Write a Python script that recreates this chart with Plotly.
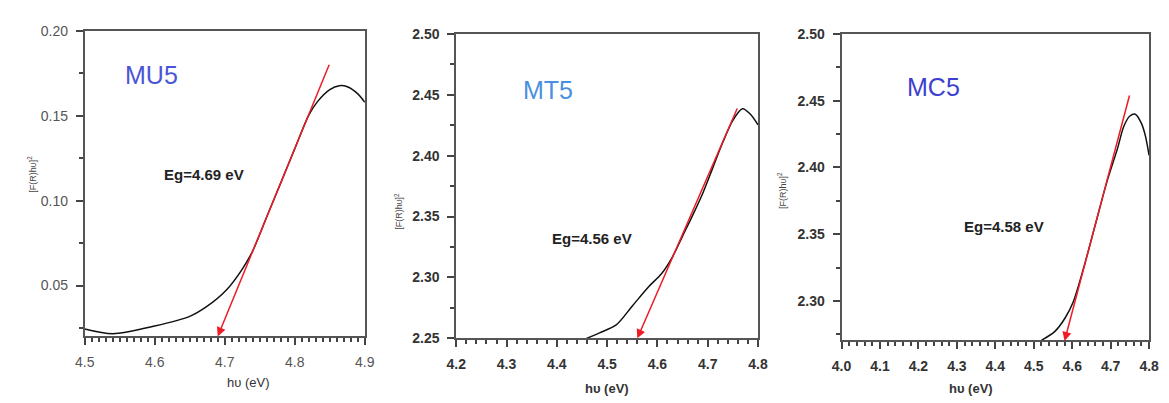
import plotly.graph_objects as go

# ---- data ----
mu5_x = [4.50, 4.54, 4.60, 4.65, 4.674, 4.702, 4.7255, 4.74, 4.76, 4.78, 4.80, 4.82, 4.833, 4.85, 4.8635, 4.875, 4.89, 4.90]
mu5_y = [0.0244, 0.0216, 0.0261, 0.0318, 0.0375, 0.0472, 0.060, 0.0705, 0.0905, 0.1105, 0.1307, 0.1505, 0.1587, 0.1655, 0.1678, 0.1672, 0.163, 0.158]
mu5_fit = [(4.69, 0.02), (4.85, 0.181)]

mt5_x = [4.459, 4.485, 4.518, 4.5505, 4.583, 4.608, 4.63, 4.65, 4.67, 4.69, 4.71, 4.73, 4.75, 4.769, 4.785, 4.80]
mt5_y = [2.250, 2.2545, 2.261, 2.2768, 2.2926, 2.303, 2.317, 2.334, 2.351, 2.369, 2.390, 2.411, 2.429, 2.4385, 2.434, 2.4253]
mt5_fit = [(4.56, 2.25), (4.76, 2.44)]

mc5_x = [4.52, 4.555, 4.581, 4.602, 4.63, 4.66, 4.69, 4.7175, 4.734, 4.75, 4.764, 4.78, 4.79, 4.80]
mc5_y = [2.2705, 2.2772, 2.287, 2.2988, 2.325, 2.357, 2.389, 2.4139, 2.4307, 2.4385, 2.4398, 2.433, 2.424, 2.409]
mc5_fit = [(4.58, 2.27), (4.75, 2.455)]

labels = ["MU5", "MT5", "MC5"]
eg_labels = ["Eg=4.69 eV", "Eg=4.56 eV", "Eg=4.58 eV"]
x_ranges = [[4.5, 4.9], [4.2, 4.8], [4.0, 4.8]]
y_ranges = [[0.02, 0.20], [2.25, 2.50], [2.2705, 2.50]]
x_major_step = [0.1, 0.1, 0.1]
x_minor_step = [0.01, 0.02, 0.02]
y_major_step = [0.05, 0.05, 0.05]
y_minor_step = [0.025, 0.025, 0.025]

# ---- layout params ----
x_domains = [[0.0650, 0.3088], [0.3884, 0.6510], [0.7237, 0.9914]]
y_domains = [[0.1514, 0.9404], [0.1464, 0.933], [0.1414, 0.933]]
label_colors = ["#4a55d8", "#4a8fe0", "#3c3fd0"]
label_pos = [(4.595, 0.174), (4.382, 2.454), (4.24, 2.46)]
eg_pos = [(4.67, 0.1153), (4.47, 2.332), (4.4235, 2.3554)]
bold = [False, True, True]

series = [(mu5_x, mu5_y, mu5_fit), (mt5_x, mt5_y, mt5_fit), (mc5_x, mc5_y, mc5_fit)]

fig = go.Figure()
annotations = []
for i, (xs, ys, fit) in enumerate(series):
    xa = "x" if i == 0 else f"x{i+1}"
    ya = "y" if i == 0 else f"y{i+1}"
    suffix = "" if i == 0 else str(i + 1)
    fig.add_trace(go.Scatter(x=xs, y=ys, mode="lines",
                             line=dict(color="#111", width=1.5, shape="spline", smoothing=0.8),
                             xaxis=xa, yaxis=ya, showlegend=False, hoverinfo="skip"))
    annotations.append(dict(x=fit[0][0], y=fit[0][1], ax=fit[1][0], ay=fit[1][1],
                            xref=xa, yref=ya, axref=xa, ayref=ya, text="", showarrow=True,
                            arrowhead=2, arrowsize=1.2, arrowwidth=1.5, arrowcolor="#ee1c25"))
    annotations.append(dict(x=label_pos[i][0], y=label_pos[i][1], xref=xa, yref=ya, text=labels[i],
                            showarrow=False, font=dict(family="Liberation Sans", size=25, color=label_colors[i])))
    annotations.append(dict(x=eg_pos[i][0], y=eg_pos[i][1], xref=xa, yref=ya, text=f"<b>{eg_labels[i]}</b>",
                            showarrow=False, font=dict(family="Liberation Sans", size=15, color="#222")))
    tfont = dict(family="Liberation Sans", size=14, color="#333" if bold[i] else "#555")
    if bold[i]:
        tfont["weight"] = "bold"
    fig.update_layout(**{
        f"xaxis{suffix}": dict(domain=x_domains[i], range=x_ranges[i], anchor=ya,
                               tick0=0, dtick=x_major_step[i], tickformat=".1f",
                               ticks="outside", ticklen=7, tickwidth=1.8, tickcolor="#444",
                               minor=dict(tick0=0, dtick=x_minor_step[i], ticks="outside", ticklen=4,
                                          tickwidth=1.5, tickcolor="#444"),
                               showline=True, linecolor="#555", linewidth=1.8, mirror=True, showgrid=False,
                               zeroline=False, tickfont=tfont, ticklabelstandoff=5),
        f"yaxis{suffix}": dict(domain=y_domains[i], range=y_ranges[i], anchor=xa,
                               tick0=0, dtick=y_major_step[i], tickformat=".2f",
                               ticks="outside", ticklen=7, tickwidth=1.8, tickcolor="#444",
                               minor=dict(tick0=0, dtick=y_minor_step[i], ticks="outside", ticklen=4,
                                          tickwidth=1.5, tickcolor="#444"),
                               showline=True, linecolor="#555", linewidth=1.8, mirror=True, showgrid=False,
                               zeroline=False, tickfont=tfont, ticklabelstandoff=5),
    })
    xt = "<b>hυ (eV)</b>" if bold[i] else "hυ (eV)"
    xc = (x_domains[i][0] + x_domains[i][1]) / 2
    yc = 1 - (390 if i == 0 else 396) / 403
    annotations.append(dict(x=xc, y=yc, xref="paper", yref="paper", yanchor="middle", text=xt,
                            showarrow=False, font=dict(family="Liberation Sans", size=13, color="#333")))

ytitle_pos = [(23 / 1169, 1 - 173 / 403), (395 / 1169, 1 - 212 / 403), (786 / 1169, 1 - 190 / 403)]
for (px, py) in ytitle_pos:
    annotations.append(dict(x=px, y=py, xref="paper", yref="paper", text="[F(R)hυ]<sup>2</sup>",
                            textangle=-90, showarrow=False, yanchor="middle", xanchor="center",
                            font=dict(family="Liberation Sans", size=9, color="#444")))

fig.update_layout(width=1169, height=403, margin=dict(l=0, r=0, t=0, b=0),
                  paper_bgcolor="white", plot_bgcolor="white", annotations=annotations)

fig.write_html("out.html")
